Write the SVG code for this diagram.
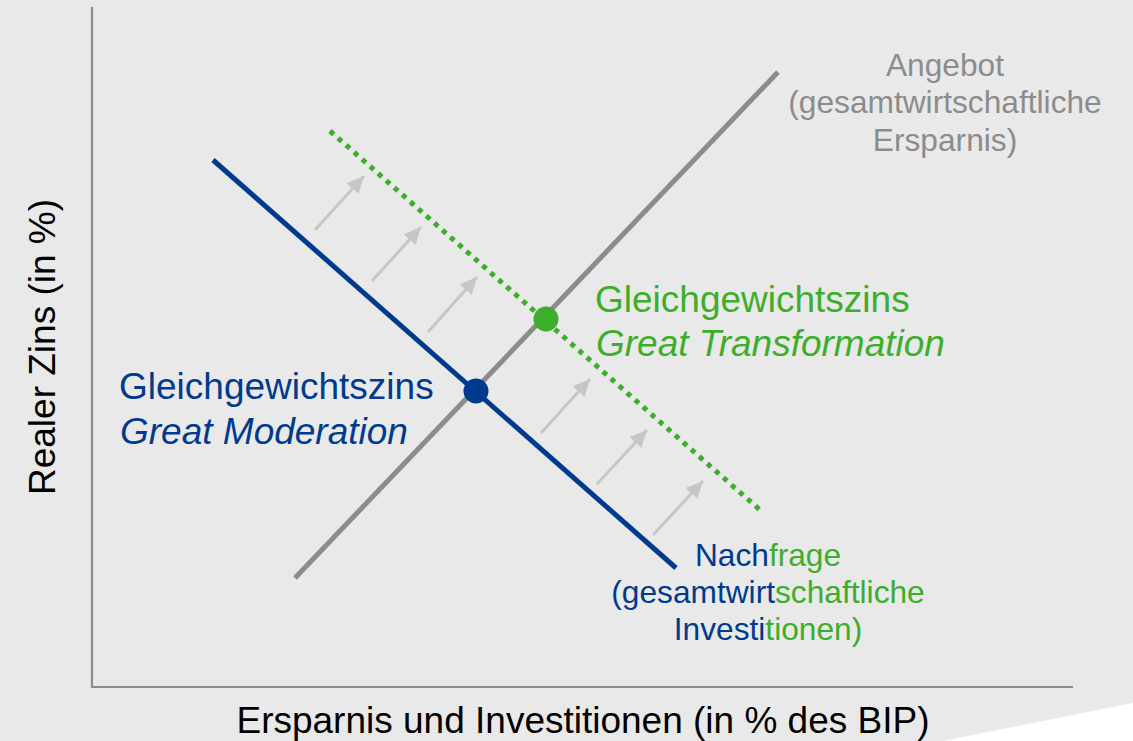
<svg xmlns="http://www.w3.org/2000/svg" width="1133" height="741" viewBox="0 0 1133 741">
  <style>
    text { font-family: "Liberation Sans", Arial, sans-serif; }
    .big { font-size: 37px; }
    .small { font-size: 31.7px; }
    .blue { fill: #003A8F; }
    .green { fill: #3DAE2B; }
    .gray { fill: #8C8C8C; }
    .axis { stroke: #8C8C8C; stroke-width: 2.2; fill: none; }
    .shift { stroke: #C6C6C6; stroke-width: 3; fill: none; marker-end: url(#ah); }
  </style>
  <defs>
    <marker id="ah" markerUnits="userSpaceOnUse" markerWidth="20" markerHeight="18" refX="17" refY="8" orient="auto">
      <path d="M0,0 L17,8 L0,16 Z" fill="#C6C6C6"/>
    </marker>
  </defs>
  <rect width="1133" height="741" fill="#E9E9E9"/>
  <polygon points="943,741 1133,703 1133,741" fill="#FFFFFF"/>

  <g id="axes">
    <line class="axis" x1="92" y1="7" x2="92" y2="688"/>
    <line class="axis" x1="91" y1="687" x2="1073" y2="687"/>
    <text class="big" x="583" y="733" text-anchor="middle" fill="#000">Ersparnis und Investitionen (in % des BIP)</text>
    <text class="big" transform="translate(55,347) rotate(-90)" text-anchor="middle" fill="#000">Realer Zins (in %)</text>
  </g>

  <g id="connectors">
    <line class="shift" x1="315" y1="230" x2="364" y2="176"/>
    <line class="shift" x1="372" y1="281" x2="421" y2="227"/>
    <line class="shift" x1="428" y1="332" x2="477" y2="277"/>
    <line class="shift" x1="541" y1="433" x2="590" y2="379"/>
    <line class="shift" x1="597" y1="484" x2="647" y2="430"/>
    <line class="shift" x1="653" y1="535" x2="703" y2="481"/>
  </g>

  <g id="supply">
    <line x1="295" y1="578" x2="778" y2="72" stroke="#8C8C8C" stroke-width="5"/>
    <text class="small gray" text-anchor="middle"><tspan x="945" y="76">Angebot</tspan><tspan x="945" y="113">(gesamtwirtschaftliche</tspan><tspan x="945" y="151">Ersparnis)</tspan></text>
  </g>

  <g id="demand-new">
    <line x1="330" y1="131" x2="760" y2="510" stroke="#3DAE2B" stroke-width="5" stroke-dasharray="5 5.7"/>
  </g>

  <g id="demand">
    <line x1="213" y1="160" x2="676" y2="568" stroke="#003A8F" stroke-width="5"/>
    <text class="small" text-anchor="middle"><tspan x="768" y="566" class="blue">Nach</tspan><tspan class="green">frage</tspan><tspan x="768" y="603" class="blue">(gesamtwirt</tspan><tspan class="green">schaftliche</tspan><tspan x="768" y="640" class="blue">Investi</tspan><tspan class="green">tionen)</tspan></text>
  </g>

  <g id="eq-moderation">
    <circle cx="476" cy="391" r="12.5" fill="#003A8F"/>
    <text class="big blue" x="119" y="399">Gleichgewichtszins</text>
    <text class="big blue" x="120" y="444" font-style="italic">Great Moderation</text>
  </g>

  <g id="eq-transformation">
    <circle cx="546" cy="319" r="12.5" fill="#3DAE2B"/>
    <text class="big green" x="595" y="312">Gleichgewichtszins</text>
    <text class="big green" x="596" y="356" font-style="italic">Great Transformation</text>
  </g>
</svg>
